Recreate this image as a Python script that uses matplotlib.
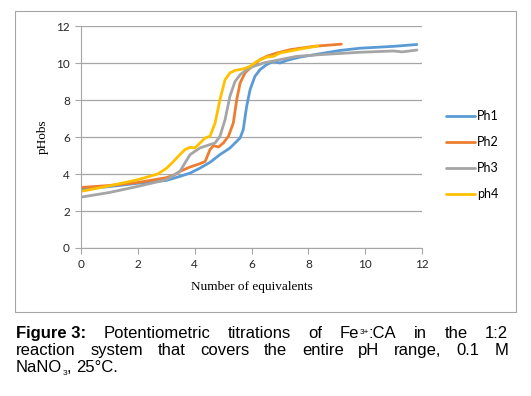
import matplotlib.pyplot as plt
from matplotlib.patches import Rectangle

# titration curves
x_ph1 = [0, 1, 2, 3, 3.48, 3.84, 4.19, 4.54, 4.89, 5.24, 5.6, 5.71, 5.83, 5.95, 6.12, 6.3,
         6.53, 6.77, 7.0, 7.24, 7.71, 8.41, 9.12, 9.82, 11.0, 11.82]
y_ph1 = [3.18, 3.32, 3.5, 3.65, 3.87, 4.05, 4.32, 4.63, 5.05, 5.4, 5.95, 6.4, 7.66, 8.56, 9.28, 9.64,
         9.91, 10.09, 10.0, 10.14, 10.32, 10.5, 10.68, 10.8, 10.9, 11.0]

x_ph2 = [0, 1, 2, 3, 3.3, 3.48, 3.84, 4.19, 4.37, 4.54, 4.66, 4.84, 5.01, 5.19, 5.36, 5.48, 5.6,
         5.77, 6.01, 6.3, 6.53, 6.89, 7.36, 8.18, 9.16]
y_ph2 = [3.27, 3.38, 3.54, 3.8, 3.96, 4.14, 4.38, 4.56, 4.68, 5.32, 5.53, 5.46, 5.68, 6.04, 6.76, 8.02, 8.92,
         9.46, 9.82, 10.18, 10.36, 10.54, 10.72, 10.9, 11.02]

x_ph3 = [0, 1, 2, 3, 3.48, 3.66, 3.84, 4.19, 4.54, 4.72, 4.89, 5.07, 5.24, 5.42, 5.6, 5.83, 6.07,
         6.42, 7.0, 7.59, 8.41, 9.82, 11.0, 11.3, 11.82]
y_ph3 = [2.75, 3.0, 3.33, 3.69, 4.14, 4.6, 5.05, 5.41, 5.59, 5.68, 6.04, 6.94, 8.2, 9.0, 9.37, 9.64, 9.82,
         10.0, 10.18, 10.36, 10.45, 10.58, 10.65, 10.6, 10.7]

x_ph4 = [0, 1, 2, 2.7, 3.0, 3.2, 3.48, 3.66, 3.84, 4.01, 4.19, 4.37, 4.54, 4.72, 4.89, 5.07, 5.24,
         5.42, 5.71, 5.95, 6.19, 6.53, 6.77, 7.0, 7.59, 8.34]
y_ph4 = [3.06, 3.36, 3.69, 4.0, 4.3, 4.59, 5.05, 5.32, 5.44, 5.41, 5.68, 5.95, 6.04, 6.76, 8.02, 9.1, 9.46,
         9.6, 9.68, 9.82, 10.09, 10.32, 10.36, 10.54, 10.72, 10.92]

labels = ['Ph1', 'Ph2', 'Ph3', 'ph4']
colors = ['#5B9BD5', '#ED7D31', '#A5A5A5', '#FFC000']
x_ticks = [0, 2, 4, 6, 8, 10, 12]
y_ticks = [0, 2, 4, 6, 8, 10, 12]

fig = plt.figure(figsize=(5.31, 3.96), dpi=100)
W, H = 531, 396

# light frame around the chart
fig.patches.append(Rectangle((15 / W, 1 - 312 / H), 501 / W, 301 / H, transform=fig.transFigure,
                             fill=False, edgecolor='#A6A6A6', linewidth=0.8))

ax = fig.add_axes([81 / W, 1 - 248 / H, 341 / W, 222 / H])
series = [(x_ph1, y_ph1), (x_ph2, y_ph2), (x_ph3, y_ph3), (x_ph4, y_ph4)]
for (xs, ys), lab, c in zip(series, labels, colors):
    ax.plot(xs, ys, color=c, lw=2, label=lab, solid_joinstyle='round', solid_capstyle='round')

ax.set_xlim(0, 12)
ax.set_ylim(0, 12)
ax.set_xticks(x_ticks)
ax.set_yticks(y_ticks)
ax.grid(axis='y', color='#A6A6A6', lw=0.9)
ax.set_axisbelow(True)
for s in ['top', 'right']:
    ax.spines[s].set_visible(False)
for s in ['left', 'bottom']:
    ax.spines[s].set_color('#A6A6A6')
ax.tick_params(direction='out', length=4, color='#A6A6A6', labelsize=8.5, pad=4,
               labelcolor='#262626')
for t in ax.get_xticklabels() + ax.get_yticklabels():
    t.set_family('Lato')

ax.set_xlabel('Number of equivalents', family='Liberation Serif', fontsize=9.5, labelpad=8)
ax.set_ylabel('pHobs', family='Liberation Serif', fontsize=9.5, labelpad=5)

leg = ax.legend(loc='upper left', bbox_to_anchor=(446 / W, 1 - 110 / H), bbox_transform=fig.transFigure,
                frameon=False, borderpad=0, borderaxespad=0, handlelength=2.3, handletextpad=0.2,
                labelspacing=1.12, prop={'family': 'Lato', 'size': 9})

# justified caption, placed piece by piece
renderer = fig.canvas.get_renderer()
left, right = 16 / W, 508 / W
cap_size = 12


def make_word(parts, ybase):
    # parts: (text, bold, size, vertical shift in px)
    pieces = []
    for txt, bold, size, dy in parts:
        t = fig.text(0, ybase + dy / H, txt, fontsize=size, family='Liberation Sans',
                     weight='bold' if bold else 'normal', va='baseline', ha='left')
        pieces.append((t, t.get_window_extent(renderer).width / W))
    return pieces


def put_line(words, ybase, justify=True):
    built = [make_word(w, ybase) for w in words]
    widths = [sum(p[1] for p in b) for b in built]
    if justify:
        gap = (right - left - sum(widths)) / (len(built) - 1)
    else:
        gap = 4.5 / W
    x = left
    for b, wd in zip(built, widths):
        xx = x
        for t, pw in b:
            t.set_x(xx)
            xx += pw
        x += wd + gap


def plain(w, bold=False):
    return [(w, bold, cap_size, 0)]


put_line([plain('Figure 3:', True), plain('Potentiometric'), plain('titrations'), plain('of'),
          [('Fe', False, cap_size, 0), ('3+', False, 6, 4.5), (':CA', False, cap_size, 0)],
          plain('in'), plain('the'), plain('1:2')], 1 - 338 / H)
put_line([plain(w) for w in 'reaction system that covers the entire pH range, 0.1 M'.split()], 1 - 355 / H)
put_line([[('NaNO', False, cap_size, 0), ('3', False, 6, -3), (',', False, cap_size, 0)],
          plain('25°C.')], 1 - 372 / H, justify=False)

fig.savefig('out.png', dpi=100)
